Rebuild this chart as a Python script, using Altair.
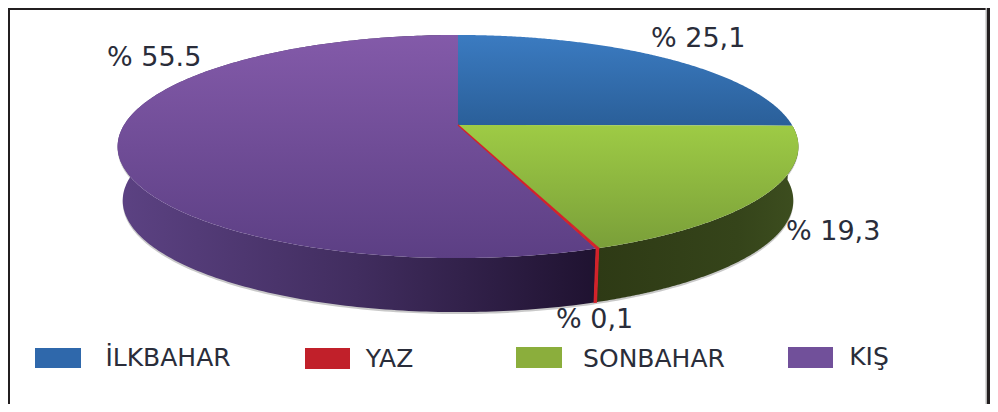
import numpy as np
import pandas as pd
import altair as alt

# ---- values
seasons = ["İLKBAHAR", "SONBAHAR", "YAZ", "KIŞ"]      # clockwise from 12 o'clock
shares = [25.1, 19.3, 0.1, 55.5]
slice_labels = ["% 25,1", "% 19,3", "% 0,1", "% 55.5"]
legend_order = ["İLKBAHAR", "YAZ", "SONBAHAR", "KIŞ"]
legend_colors = ["#2f68ab", "#c1202a", "#8bae3c", "#71509a"]

# ---- layout
CX, CY, R, B, PERSP = 458.0, 125.0, 334.0, 107.4, 0.193
DEPTH, SHRINK = 54.0, 0.985
W, H = 982, 396
FONT = "DejaVu Sans"
TEXT = "#2a2d3a"


def rim(t):
    u, v = np.sin(t), np.cos(t)
    w = 1 + PERSP * v
    return CX + R * u / w, CY - B * v / w


def poly_df(xs, ys):
    return pd.DataFrame({"x": xs, "y": ys, "i": np.arange(len(xs))})


def top_face(t0, t1):
    t = np.linspace(t0, t1, 240)
    x, y = rim(t)
    return poly_df(np.r_[CX, x, CX], np.r_[CY, y, CY])


def wall(t0, t1):
    t = np.linspace(t0, t1, 240)
    x, y = rim(t)
    xb = CX + (x - CX) * SHRINK
    yb = y + DEPTH
    return poly_df(np.r_[x, xb[::-1], x[0]], np.r_[y, yb[::-1], y[0]])


SX = alt.Scale(domain=[8, 8 + W], range=[0, W], nice=False, zero=False)
SY = alt.Scale(domain=[8, 8 + H], range=[0, H], nice=False, zero=False)
X = alt.X("x:Q", scale=SX, axis=None)
Y = alt.Y("y:Q", scale=SY, axis=None)


def grad_v(c0, c1):
    return alt.LinearGradient(gradient="linear", x1=0, x2=0, y1=0, y2=1,
                              stops=[alt.GradientStop(offset=0, color=c0),
                                     alt.GradientStop(offset=1, color=c1)])


def grad_h(stops):
    return alt.LinearGradient(gradient="linear", x1=0, x2=1, y1=0, y2=0,
                              stops=[alt.GradientStop(offset=o, color=c) for o, c in stops])


def shape(df, fill, stroke=None, sw=0.0):
    kw = dict(fill=fill, interpolate="linear")
    if stroke:
        kw.update(stroke=stroke, strokeWidth=sw)
    else:
        kw.update(strokeWidth=0)
    return alt.Chart(df).mark_line(**kw).encode(x=X, y=Y, order="i:Q")


edges = np.cumsum([0] + shares) / 100 * 2 * np.pi
spans = dict(zip(seasons, zip(edges[:-1], edges[1:])))

layers = []

# soft shadow under the pie rim
s0, s1 = spans["SONBAHAR"][0], spans["KIŞ"][1] * 0.80
sh = wall(s0, s1)
sh = sh.assign(y=sh["y"] + 2)
layers.append(shape(sh, "#c9c9c9"))

# side walls
layers.append(shape(wall(*spans["KIŞ"]),
                    grad_h([(0, "#5c4283"), (0.5, "#412d5f"), (1, "#1f1230")])))
layers.append(shape(wall(*spans["SONBAHAR"]),
                    grad_h([(0, "#2e3a15"), (0.7, "#35441a"), (1, "#3d4e1f")])))
# top faces
layers.append(shape(top_face(*spans["KIŞ"]), grad_v("#835aa9", "#5c3f84")))
layers.append(shape(top_face(*spans["İLKBAHAR"]), grad_v("#3b7bc1", "#2a5f99")))
layers.append(shape(top_face(*spans["SONBAHAR"]), grad_v("#9ecb45", "#7a9f39")))

# the thin summer slice
a0, a1 = spans["YAZ"]
layers.append(shape(top_face(a0, a1), "#d3222a", stroke="#d3222a", sw=1.2))
layers.append(shape(wall(a0, a1), "#d3222a", stroke="#d3222a", sw=1.2))

# frame
frame = pd.DataFrame({
    "x": [8, 8, 985.5, 987],
    "x2": [10, 990, 987, 990],
    "y": [8, 8, 8, 8],
    "y2": [404, 10, 404, 404],
    "c": ["#231f20", "#231f20", "#b5b5b5", "#231f20"],
})
layers.append(alt.Chart(frame).mark_rect(strokeWidth=0).encode(
    x=X, x2="x2:Q", y=Y, y2="y2:Q", color=alt.Color("c:N", scale=None, legend=None)))

# slice labels
lab = pd.DataFrame({
    "x": [651, 786, 556, 107],
    "y": [47, 240, 328, 66],
    "t": slice_labels,
})
layers.append(alt.Chart(lab).mark_text(align="left", baseline="alphabetic", font=FONT,
                                       fontSize=27, color=TEXT).encode(x=X, y=Y, text="t:N"))

# legend
leg = pd.DataFrame({
    "x": [35, 305, 516, 788],
    "x2": [81, 350, 562, 833],
    "y": [348, 348, 347, 347],
    "y2": [368, 369, 368, 368],
    "c": legend_colors,
    "tx": [168, 389.5, 654, 869],
    "ty": [366, 367, 367, 365],
    "t": legend_order,
})
layers.append(alt.Chart(leg).mark_rect(strokeWidth=0).encode(
    x=X, x2="x2:Q", y=Y, y2="y2:Q", color=alt.Color("c:N", scale=None, legend=None)))
layers.append(alt.Chart(leg).mark_text(align="center", baseline="alphabetic", font=FONT,
                                       fontSize=25, color=TEXT).encode(
    x=alt.X("tx:Q", scale=SX, axis=None), y=alt.Y("ty:Q", scale=SY, axis=None), text="t:N"))

chart = (
    alt.layer(*layers)
    .properties(width=W, height=H, padding=0, autosize=alt.AutoSizeParams(type="none"), background="white")
    .configure_view(stroke=None)
)

chart.save("out.html", embed_options={"renderer": "svg", "actions": False})
